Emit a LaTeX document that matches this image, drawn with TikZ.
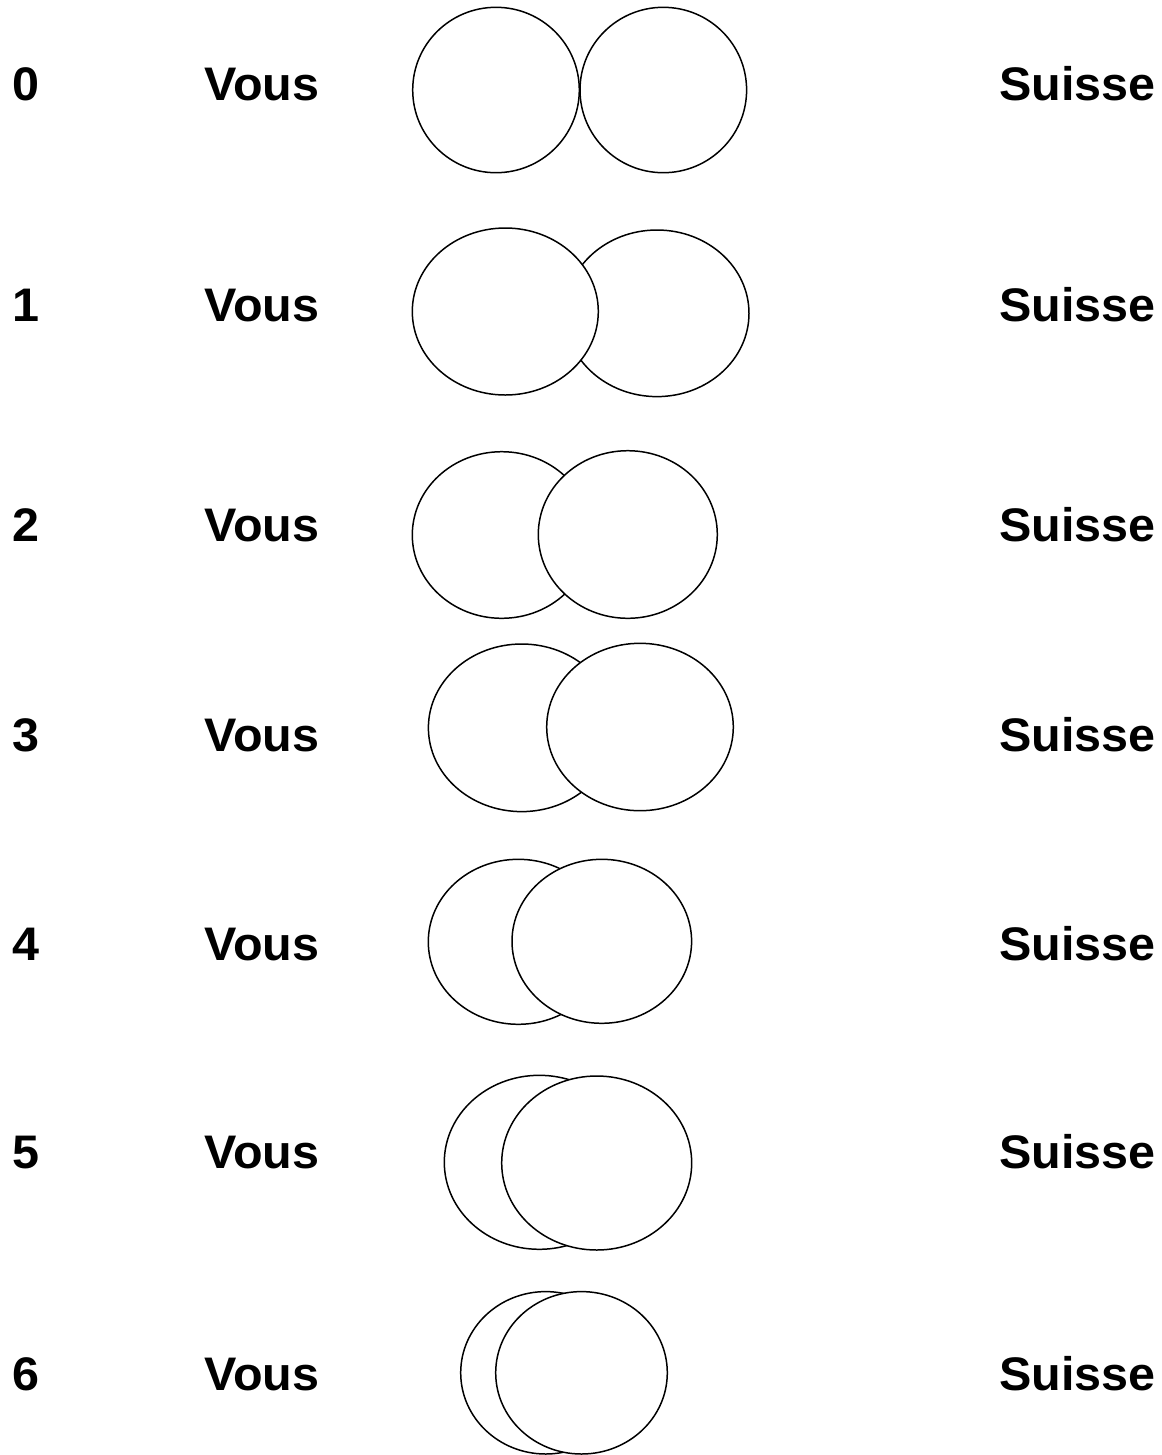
\documentclass[tikz,border=0pt]{standalone}
\usepackage{fontspec}
\setmainfont{Liberation Sans}[FakeStretch=1.03]
\usetikzlibrary{positioning}
\tikzset{
    venn diagram/.style = {x=0.02cm, y=-0.02cm},
    ring/.style         = {draw, fill=white, line width=0.85pt},
    lab/.style          = {font=\fontsize{26.8}{30}\selectfont\bfseries,
                           inner sep=0pt, anchor=base west}
}

\begin{document}
\begin{tikzpicture}[venn diagram]
\useasboundingbox (0,0) rectangle (1161,1455);

% ================= Row labels =================
\foreach \n/\b in {0/100.7, 1/321.7, 2/541.7, 3/751.7,
                   4/960, 5/1168.3, 6/1390} {
    \node[lab] (num\n) at (12,\b) {\n};
    \node[lab] (you\n) at (204,\b) {Vous};
    \node[lab] (ch\n)  at (999,\b) {Suisse};
}

% ================= Ellipse pairs =================
% 0: touching
\draw[ring] (496,90) ellipse [x radius=83.3, y radius=82.7];
\draw[ring] (663.3,90) ellipse [x radius=83.3, y radius=82.7];
% 1: left one in front
\draw[ring] (657,313.3) ellipse [x radius=92, y radius=83.3];
\draw[ring] (505.3,311.5) ellipse [x radius=93, y radius=83.5];
% 2
\draw[ring] (501.7,535) ellipse [x radius=89.4, y radius=83.3];
\draw[ring] (627.8,534.5) ellipse [x radius=89.5, y radius=83.8];
% 3
\draw[ring] (521.7,727.8) ellipse [x radius=93.3, y radius=83.8];
\draw[ring] (640,727) ellipse [x radius=93.3, y radius=83.7];
% 4
\draw[ring] (518.3,941.8) ellipse [x radius=90, y radius=82.5];
\draw[ring] (601.8,941.3) ellipse [x radius=89.8, y radius=82];
% 5
\draw[ring] (539.3,1162.3) ellipse [x radius=95, y radius=87];
\draw[ring] (596.7,1163) ellipse [x radius=95, y radius=87];
% 6
\draw[ring] (545.7,1372.8) ellipse [x radius=85, y radius=81.2];
\draw[ring] (581.5,1372.8) ellipse [x radius=85.8, y radius=81.2];

\end{tikzpicture}
\end{document}
